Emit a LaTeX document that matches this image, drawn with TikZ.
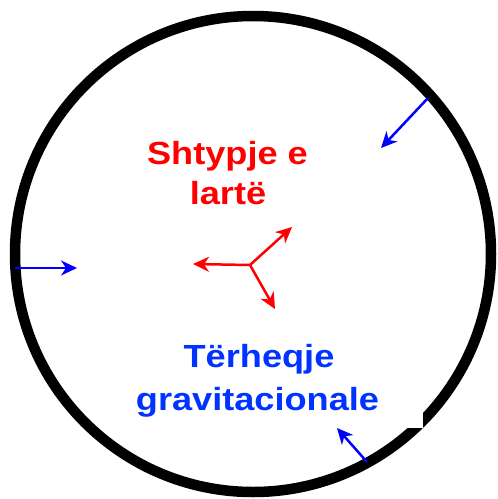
\documentclass[tikz,border=0pt]{standalone}
\usepackage{fontspec}
\setmainfont{Liberation Sans}
\usetikzlibrary{arrows.meta}
\definecolor{txtred}{RGB}{255,0,0}
\definecolor{txtblue}{RGB}{0,51,255}
\definecolor{arrblue}{RGB}{0,0,255}
\newcommand{\widetxt}[1]{\scalebox{1.13}[1]{#1}}
\tikzset{
  lbl/.style={font=\bfseries\fontsize{32}{39}\selectfont, inner sep=0pt, anchor=base},
  redarrow/.style={draw=txtred, line width=2.5pt, -{Stealth[length=16pt,width=15pt,inset=5pt]}},
  bluearrow/.style={draw=arrblue, line width=2.5pt, -{Stealth[length=16pt,width=15pt,inset=5pt]}},
}
\begin{document}
\begin{tikzpicture}[x=1pt,y=-1pt]
\useasboundingbox (0,0) rectangle (498,499);
\fill[white] (0,0) rectangle (498,499);
\node[circle, draw=black, line width=10.5pt, minimum size=476pt, inner sep=0pt] (ring) at (253,254) {};
\fill[white] (300,395) rectangle (423,428);
% red label
\node[lbl, text=txtred] (hp1) at (227.5,164) {\widetxt{Shtypje e}};
\node[lbl, text=txtred] (hp2) at (228,204) {\widetxt{lartë}};
% blue label
\node[lbl, text=txtblue] (gr1) at (259,367) {\widetxt{Tërheqje}};
\node[lbl, text=txtblue] (gr2) at (257.5,410) {\widetxt{gravitacionale}};
% red arrows
\coordinate (c) at (250,265);
\coordinate (r1) at (193,264);
\coordinate (r2) at (292,227);
\coordinate (r3) at (275,309);
\draw[redarrow] (c) -- (r1);
\draw[redarrow] (c) -- (r2);
\draw[redarrow] (c) -- (r3);
% blue arrows
\coordinate (b1s) at (428,98);
\coordinate (b1e) at (381,148);
\coordinate (b2s) at (15,268);
\coordinate (b2e) at (77,268);
\coordinate (b3s) at (367,462);
\coordinate (b3e) at (337,428);
\draw[bluearrow] (b1s) -- (b1e);
\draw[bluearrow] (b2s) -- (b2e);
\draw[bluearrow] (b3s) -- (b3e);
\end{tikzpicture}
\end{document}
